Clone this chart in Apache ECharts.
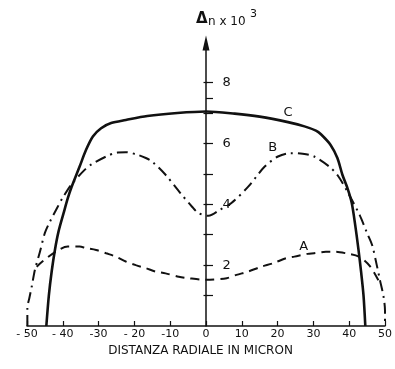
<!DOCTYPE html>
<html>
<head>
<meta charset="utf-8">
<script src="https://cdn.jsdelivr.net/npm/echarts@6/dist/echarts.min.js"></script>
<style>
html,body{margin:0;padding:0;background:#fff;}
#chart{width:395px;height:369px;}
</style>
</head>
<body>
<div id="chart"></div>
<script>
// ---- data ----
var xTickLabels = ['- 50','- 40','-30','- 20','-10','0','10','20','30','40','50'];
var yTickValues = [1,2,3,4,5,6,7,8];
var yTickValuesRight = [1,2,3,4,5,6,7,7.5,8];
var yLabelValues = [2,4,6,8];

var curveC = [[-44.6,0],[-43.9,1.0],[-43.1,1.8],[-42.2,2.5],[-41.2,3.1],[-39.8,3.7],[-38.6,4.2],[-37.6,4.55],[-35.3,5.24],[-33.5,5.79],[-31.6,6.23],[-29.3,6.5],[-26.5,6.67],[-22.4,6.77],[-16.4,6.9],[-8,7.0],[0,7.05],[8,6.98],[15,6.88],[22.9,6.7],[27.5,6.56],[30.7,6.42],[32.1,6.3],[34.8,5.95],[36.7,5.52],[38.1,4.97],[39.6,4.5],[40.7,4.05],[41.7,3.3],[42.6,2.5],[43.3,1.8],[44.0,1.0],[44.5,0]];

var curveB = [[-49.9,0],[-49.9,0.59],[-49.4,0.89],[-48.7,1.28],[-47.8,1.84],[-46.4,2.43],[-45.0,3.06],[-43.5,3.45],[-41.6,3.88],[-40.1,4.2],[-37.6,4.65],[-33.9,5.13],[-32.1,5.3],[-27.9,5.57],[-24.7,5.7],[-22.4,5.71],[-19.2,5.63],[-16.8,5.52],[-15.0,5.40],[-11.3,4.97],[-7.1,4.36],[-3.9,3.92],[-2.1,3.71],[0.7,3.62],[3.9,3.82],[7.1,4.04],[11.8,4.58],[16.4,5.24],[20.1,5.57],[23.5,5.68],[27.0,5.66],[30.2,5.57],[34.4,5.24],[36.9,4.93],[39.8,4.35],[42.9,3.65],[45.0,3.05],[46.4,2.66],[47.7,2.0],[48.6,1.5],[49.6,0.96],[50,0.5],[50,0]];

var curveA = [[-47.3,1.95],[-45.7,2.12],[-42.0,2.44],[-38.6,2.61],[-35.3,2.61],[-33.5,2.56],[-30.7,2.5],[-27.9,2.39],[-25.2,2.28],[-22.4,2.12],[-19.6,2.0],[-16.8,1.9],[-14.1,1.79],[-11.3,1.73],[-7.6,1.62],[-4.8,1.57],[0,1.52],[5.8,1.57],[8.5,1.68],[11.8,1.79],[15.5,1.95],[18.7,2.06],[22.4,2.23],[24.7,2.28],[28.4,2.37],[30.2,2.39],[33.5,2.44],[36.2,2.44],[39.0,2.39],[42.7,2.28],[45.9,1.95],[48.6,1.4]];

var curveNames = ['C','B','A'];
var curveLabelAt = [[22.9,7.0],[18.6,5.85],[27.3,2.61]];

// ---- chart ----
var ink = '#111';
var font = 'DejaVu Sans';
var chart = echarts.init(document.getElementById('chart'), null, {renderer:'canvas'});

function labelPoint(i){
  return {
    symbol:'circle', symbolSize:1, silent:true,
    itemStyle:{color:'rgba(0,0,0,0)'},
    label:{show:true, position:'inside', color:ink, fontSize:13, fontFamily:font, formatter:curveNames[i]},
    data:[{coord:curveLabelAt[i]}]
  };
}

var option = {
  animation:false,
  backgroundColor:'#fff',
  grid:{left:27, right:7, top:43, bottom:43, containLabel:false},
  xAxis:{
    type:'value', min:-50, max:50, interval:10,
    axisLine:{show:true, onZero:true, lineStyle:{color:ink, width:1.5}},
    axisTick:{show:true, inside:true, length:5, lineStyle:{color:ink, width:1.2}},
    axisLabel:{color:ink, fontSize:11, fontFamily:font, margin:3,
      formatter:function(v){ var i = Math.round((v+50)/10); return xTickLabels[i] || ''; }},
    splitLine:{show:false},
    name:'DISTANZA RADIALE IN MICRON', nameLocation:'middle', nameGap:15,
    nameTextStyle:{color:ink, fontSize:12, fontFamily:font, padding:[0,11,0,0]}
  },
  yAxis:[{
    type:'value', min:0, max:9.3, position:'left',
    axisLine:{show:true, onZero:true, symbol:['none','triangle'], symbolSize:[7,15], lineStyle:{color:ink, width:1.5}},
    axisTick:{show:true, inside:true, length:7, customValues:yTickValuesRight, lineStyle:{color:ink, width:1.2}},
    axisLabel:{show:false},
    splitLine:{show:false}
  },{
    type:'value', min:0, max:9.3, position:'left', offset:-180.5,
    axisLine:{show:false, onZero:false},
    axisTick:{show:true, inside:false, length:4, customValues:yTickValues, lineStyle:{color:ink, width:1.2}},
    axisLabel:{show:true, inside:true, margin:15, color:ink, fontSize:13, fontFamily:font, customValues:yLabelValues},
    splitLine:{show:false}
  }],
  graphic:[
    {type:'text', left:196, top:12, style:{text:'Δ', fill:ink, font:'bold 15px "DejaVu Sans"'}},
    {type:'text', left:208, top:16, style:{text:'n x 10', fill:ink, font:'12px "DejaVu Sans"'}},
    {type:'text', left:250, top:9, style:{text:'3', fill:ink, font:'11px "DejaVu Sans"'}}
  ],
  series:[
    {name:'C', type:'line', data:curveC, smooth:0.3, showSymbol:false, yAxisIndex:0,
      lineStyle:{color:ink, width:2.6, type:'solid'}, markPoint:labelPoint(0)},
    {name:'B', type:'line', data:curveB, smooth:0.3, showSymbol:false, yAxisIndex:0,
      lineStyle:{color:ink, width:2, type:[11,5,2,5]}, markPoint:labelPoint(1)},
    {name:'A', type:'line', data:curveA, smooth:0.3, showSymbol:false, yAxisIndex:0,
      lineStyle:{color:ink, width:2, type:[9,6]}, markPoint:labelPoint(2)}
  ]
};
chart.setOption(option);
</script>
</body>
</html>
